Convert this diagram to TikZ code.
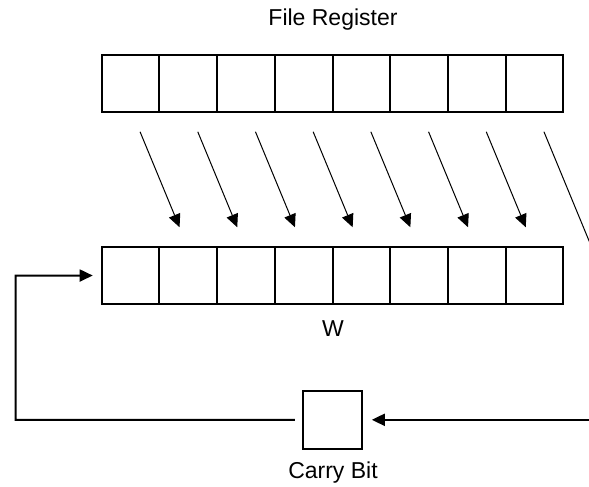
\documentclass[tikz,border=0pt]{standalone}
\usepackage{fontspec}
\setmainfont{Liberation Sans}
\usetikzlibrary{arrows.meta,calc}
\begin{document}
\begin{tikzpicture}[x=1pt,y=-1pt,
  cell/.style={draw,line width=2pt,minimum width=57.7pt,minimum height=57.5pt,inner sep=0pt,outer sep=0pt},
  lbl/.style={font=\fontsize{23}{26}\selectfont,inner sep=0pt},
  thinarrow/.style={line width=1pt,-{Triangle[length=13pt,width=12pt]}},
  thickarrow/.style={line width=2pt,-{Triangle[length=13pt,width=12pt]}},
  thickline/.style={line width=2pt}]
\clip (0,0) rectangle (589,487);
\useasboundingbox (0,0) rectangle (589,487);
\foreach \i in {0,...,7}{
  \node[cell] (f\i) at ({130.55+57.7*\i},83.5) {};
  \node[cell] (w\i) at ({130.55+57.7*\i},275.5) {};
  \coordinate (s\i) at ($(f\i.south)+(9.5,19.5)$);
}
\foreach \i in {0,...,6}{
  \coordinate (e\i) at ($(w\i.north)+(49,-19.5)$);
  \draw[thinarrow] (s\i) -- (e\i);
}
\coordinate (e7) at ($(s7)+(62,150)$);
\draw[line width=1pt] (s7) -- (e7);
\node[lbl] (ftitle) at (333,20) {File Register};
\node[lbl] (wtitle) at (333,329) {W};
\node[cell,minimum width=59pt,minimum height=58pt] (c) at (332.8,419.8) {};
\node[lbl] (ctitle) at (333,473) {Carry Bit};
\coordinate (cin) at (610,419.8);
\draw[thickarrow] (cin) -- ($(c.east)+(9.5,0)$);
\coordinate (bl) at (15.7,419.8);
\coordinate (tl) at (15.7,275.7);
\draw[thickarrow] ($(c.west)+(-8.5,0)$) -- (bl) -- (tl) -- ($(w0.west)+(-9,0)$);
\end{tikzpicture}
\end{document}
